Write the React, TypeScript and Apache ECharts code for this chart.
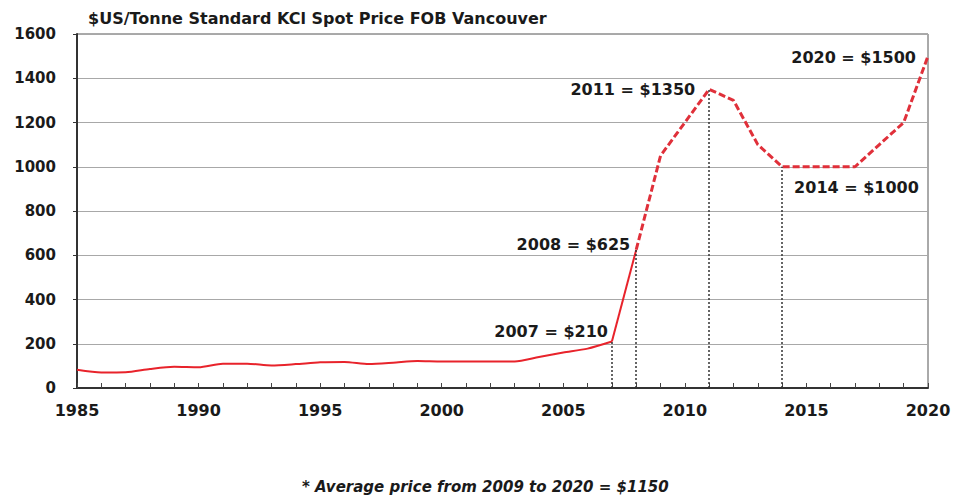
import React, { useEffect, useRef } from "react";
import * as echarts from "echarts";

const historicYears = [1985, 1986, 1987, 1988, 1989, 1990, 1991, 1992, 1993, 1994, 1995, 1996, 1997, 1998, 1999, 2000, 2001, 2002, 2003, 2004, 2005, 2006, 2007];
const historicPrices = [82, 70, 71, 86, 96, 94, 110, 110, 102, 108, 116, 118, 108, 114, 122, 120, 120, 120, 120, 140, 160, 178, 210];
const jumpYears = [2007, 2008];
const jumpPrices = [210, 625];
const forecastYears = [2008, 2009, 2010, 2011, 2012, 2013, 2014, 2015, 2016, 2017, 2018, 2019, 2020];
const forecastPrices = [625, 1050, 1200, 1350, 1300, 1100, 1000, 1000, 1000, 1000, 1100, 1200, 1500];

const annotYears = [2007, 2008, 2011, 2014, 2020];
const annotPrices = [210, 625, 1350, 1000, 1500];
const annotLabels = ["2007 = $210", "2008 = $625", "2011 = $1350", "2014 = $1000", "2020 = $1500"];
const dropLineYears = [2007, 2008, 2011, 2014];

const xLabelStep = 5;

const titleText = "$US/Tonne Standard KCl Spot Price FOB Vancouver";
const footnoteText = "* Average price from 2009 to 2020 = $1150";

const FONT = "DejaVu Sans";

export default function App() {
  const ref = useRef<HTMLDivElement>(null);
  useEffect(() => {
    if (!ref.current) return;
    const chart = echarts.init(ref.current, null, { renderer: "svg" });
    const labelPlacement: Record<number, any> = {
      2007: { position: "left", distance: 4, offset: [0, -10] },
      2008: { position: "left", distance: 6, offset: [0, -5] },
      2011: { position: "left", distance: 14, offset: [0, 0] },
      2014: { position: "right", distance: 12, offset: [0, 21] },
      2020: { position: "left", distance: 12, offset: [0, 1] },
    };
    const markPointData = annotYears.map((y, i) => ({
      coord: [y, annotPrices[i]],
      symbolSize: 0,
      label: {
        show: true,
        formatter: annotLabels[i],
        color: "#1a1a1a",
        fontFamily: FONT,
        fontWeight: "bold",
        fontSize: 16,
        ...labelPlacement[y],
      },
    }));
    const markLineData = dropLineYears.map((y) => {
      const idx = annotYears.indexOf(y);
      return [{ coord: [y, 0] }, { coord: [y, annotPrices[idx]] }];
    });
    const toPairs = (xs: number[], ys: number[]) => xs.map((x, i) => [x, ys[i]]);
    chart.setOption({
      animation: false,
      backgroundColor: "#ffffff",
      title: [
        {
          text: titleText,
          left: 83,
          top: 5,
          textStyle: { fontFamily: FONT, fontWeight: "bold", fontSize: 16, color: "#1a1a1a" },
        },
        {
          text: footnoteText,
          left: 297,
          top: 474,
          textStyle: {
            fontFamily: FONT,
            fontWeight: "bold",
            fontStyle: "italic",
            fontSize: 15,
            lineHeight: 16,
            color: "#1a1a1a",
          },
        },
      ],
      grid: {
        left: 77,
        right: 26,
        top: 34,
        bottom: 107,
        show: true,
        borderColor: "#555",
        borderWidth: 1,
      },
      xAxis: {
        type: "value",
        min: 1985,
        max: 2020,
        interval: 1,
        axisLine: { show: true, onZero: false, lineStyle: { color: "#333", width: 2 } },
        axisTick: { show: true, inside: true, length: 5, lineStyle: { color: "#444", width: 1 } },
        splitLine: { show: false },
        axisLabel: {
          margin: 14,
          color: "#1a1a1a",
          fontFamily: FONT,
          fontWeight: "bold",
          fontSize: 16,
          formatter: (v: number) => (v % xLabelStep === 0 ? String(v) : ""),
        },
      },
      yAxis: {
        type: "value",
        min: 0,
        max: 1600,
        interval: 200,
        axisLine: { show: true, lineStyle: { color: "#333", width: 2 } },
        axisTick: { show: true, length: 4, lineStyle: { color: "#333" } },
        splitLine: { show: true, lineStyle: { color: "#a8a8a8", width: 1 } },
        axisLabel: {
          margin: 21,
          color: "#1a1a1a",
          fontFamily: FONT,
          fontWeight: "bold",
          fontSize: 15,
          formatter: (v: number) => String(v),
        },
      },
      series: [
        {
          type: "line",
          data: toPairs(historicYears, historicPrices),
          smooth: 0.25,
          symbol: "none",
          lineStyle: { color: "#e8232b", width: 2 },
        },
        {
          type: "line",
          data: toPairs(jumpYears, jumpPrices),
          symbol: "none",
          lineStyle: { color: "#e8232b", width: 2 },
        },
        {
          type: "line",
          data: toPairs(forecastYears, forecastPrices),
          symbol: "none",
          z: 3,
          lineStyle: { color: "#e0303a", width: 3, type: [7, 3] },
          markLine: {
            silent: true,
            symbol: "none",
            label: { show: false },
            lineStyle: { color: "#333", width: 1.5, type: [2, 2] },
            data: markLineData,
          },
          markPoint: {
            silent: true,
            symbol: "circle",
            data: markPointData,
          },
        },
      ],
    });
    return () => chart.dispose();
  }, []);
  return <div ref={ref} style={{ position: "fixed", left: 0, top: 0, width: 954, height: 495 }} />;
}
